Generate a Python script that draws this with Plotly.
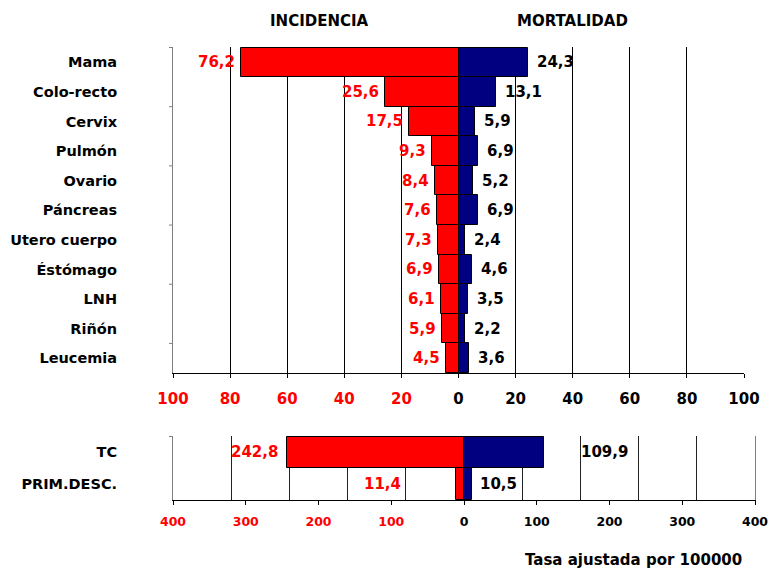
import plotly.graph_objects as go

# ---- data ----
categories = ["Mama", "Colo-recto", "Cervix", "Pulmón", "Ovario", "Páncreas",
              "Utero cuerpo", "Éstómago", "LNH", "Riñón", "Leucemia"]
incidencia = [76.2, 25.6, 17.5, 9.3, 8.4, 7.6, 7.3, 6.9, 6.1, 5.9, 4.5]
mortalidad = [24.3, 13.1, 5.9, 6.9, 5.2, 6.9, 2.4, 4.6, 3.5, 2.2, 3.6]

tot_categories = ["TC", "PRIM.DESC."]
tot_incidencia = [242.8, 11.4]
tot_mortalidad = [109.9, 10.5]

top_ticks = [-100, -80, -60, -40, -20, 0, 20, 40, 60, 80, 100]
bot_ticks = [-400, -300, -200, -100, 0, 100, 200, 300, 400]

RED = "#FF0000"
NAVY = "#000080"
FONT = "DejaVu Sans"
W, H = 769, 568


def fmt(v):
    return f"{v:.1f}".replace(".", ",")


def tick_label(v):
    if v < 0:
        return f"<span style='color:{RED}'>{abs(v)}</span>"
    return str(v)


def bfont(size, color="black"):
    return dict(family=FONT, size=size, color=color, weight="bold")


fig = go.Figure()

bar_line = dict(color="black", width=1)

# top chart
fig.add_trace(go.Bar(y=categories, x=[-v for v in incidencia], orientation="h",
                     marker=dict(color=RED, line=bar_line),
                     xaxis="x", yaxis="y", showlegend=False, hoverinfo="skip"))
fig.add_trace(go.Bar(y=categories, x=mortalidad, orientation="h",
                     marker=dict(color=NAVY, line=bar_line),
                     xaxis="x", yaxis="y", showlegend=False, hoverinfo="skip"))

# bottom chart
fig.add_trace(go.Bar(y=tot_categories, x=[-v for v in tot_incidencia], orientation="h",
                     marker=dict(color=RED, line=bar_line),
                     xaxis="x2", yaxis="y2", showlegend=False, hoverinfo="skip"))
fig.add_trace(go.Bar(y=tot_categories, x=tot_mortalidad, orientation="h",
                     marker=dict(color=NAVY, line=bar_line),
                     xaxis="x2", yaxis="y2", showlegend=False, hoverinfo="skip"))

# value labels, top chart
for c, v in zip(categories, incidencia):
    fig.add_annotation(x=-v, y=c, xref="x", yref="y", text=fmt(v),
                       xanchor="right", yanchor="middle", xshift=-4,
                       showarrow=False, font=bfont(15, RED))
for c, v in zip(categories, mortalidad):
    fig.add_annotation(x=v, y=c, xref="x", yref="y", text=fmt(v),
                       xanchor="left", yanchor="middle", xshift=7,
                       showarrow=False, font=bfont(15))

# value labels, bottom chart (placed like the original)
inc_shift = [-7, -53]
mort_shift = [35, 6]
for c, v, s in zip(tot_categories, tot_incidencia, inc_shift):
    fig.add_annotation(x=-v, y=c, xref="x2", yref="y2", text=fmt(v),
                       xanchor="right", yanchor="middle", xshift=s,
                       showarrow=False, font=bfont(15, RED))
for c, v, s in zip(tot_categories, tot_mortalidad, mort_shift):
    fig.add_annotation(x=v, y=c, xref="x2", yref="y2", text=fmt(v),
                       xanchor="left", yanchor="middle", xshift=s,
                       showarrow=False, font=bfont(15))

top_dom_x = [173 / W, 744 / W]
bot_dom_x = [173 / W, 755 / W]
top_dom_y = [1 - 373 / H, 1 - 47 / H]
bot_dom_y = [1 - 500 / H, 1 - 436 / H]

fig.update_layout(
    width=W, height=H, margin=dict(l=0, r=0, t=0, b=0, autoexpand=False),
    paper_bgcolor="white", plot_bgcolor="white",
    barmode="relative", bargap=0,
    font=dict(family=FONT),
    xaxis=dict(domain=top_dom_x, anchor="y", range=[-100, 100],
               tickmode="array", tickvals=top_ticks,
               ticktext=[tick_label(v) for v in top_ticks],
               showgrid=True, gridcolor="black", gridwidth=1,
               zeroline=False, showline=True, linecolor="black", linewidth=1,
               ticks="outside", ticklen=4, tickcolor="black",
               ticklabelstandoff=8, ticklabeloverflow="allow",
               tickfont=bfont(15), fixedrange=True),
    yaxis=dict(domain=top_dom_y, anchor="x", autorange="reversed",
               showgrid=False, zeroline=False, showline=True,
               linecolor="#808080", linewidth=1, ticks="",
               ticklabelstandoff=52, tickfont=bfont(14.5), fixedrange=True),
    xaxis2=dict(domain=bot_dom_x, anchor="y2", range=[-400, 400],
                tickmode="array", tickvals=bot_ticks,
                ticktext=[tick_label(v) for v in bot_ticks],
                showgrid=False, zeroline=False, showline=True,
                linecolor="black", linewidth=1,
                ticks="outside", ticklen=4, tickcolor="black",
                ticklabelstandoff=6, ticklabeloverflow="allow",
                tickfont=bfont(12.5), fixedrange=True),
    xaxis3=dict(overlaying="x2", anchor="y2", range=[-400, 400],
                tickmode="linear", dtick=80, tick0=0,
                showgrid=True, gridcolor="#222222",
                gridwidth=1, showticklabels=False, ticks="",
                zeroline=False, showline=False, fixedrange=True),
    yaxis2=dict(domain=bot_dom_y, anchor="x2", autorange="reversed",
                showgrid=False, zeroline=False, showline=True, mirror=True,
                linecolor="#808080", linewidth=1, ticks="",
                ticklabelstandoff=52, tickfont=bfont(14.5), fixedrange=True),
)

# invisible trace so that the grid-only overlay axis is drawn
fig.add_trace(go.Scatter(x=[0], y=[tot_categories[0]], xaxis="x3", yaxis="y2",
                         mode="markers", marker=dict(opacity=0),
                         showlegend=False, hoverinfo="skip"))

# y-axis tick marks every two categories
for k in range(0, len(categories), 2):
    fig.add_shape(type="line", xref="paper", yref="y",
                  x0=169 / W, x1=173 / W, y0=k - 0.5, y1=k - 0.5,
                  line=dict(color="#808080", width=1))
fig.add_shape(type="line", xref="paper", yref="y2",
              x0=169 / W, x1=173 / W, y0=-0.5, y1=-0.5,
              line=dict(color="#808080", width=1))

# titles
fig.add_annotation(x=319 / W, y=1 - 21 / H, xref="paper", yref="paper",
                   text="INCIDENCIA", showarrow=False,
                   xanchor="center", yanchor="middle", font=bfont(15))
fig.add_annotation(x=572 / W, y=1 - 21 / H, xref="paper", yref="paper",
                   text="MORTALIDAD", showarrow=False,
                   xanchor="center", yanchor="middle", font=bfont(15))
fig.add_annotation(x=744 / W, y=1 - 560 / H, xref="paper", yref="paper",
                   text="Tasa ajustada por 100000", showarrow=False,
                   xanchor="right", yanchor="middle", font=bfont(15))

fig.write_html("out.html")
